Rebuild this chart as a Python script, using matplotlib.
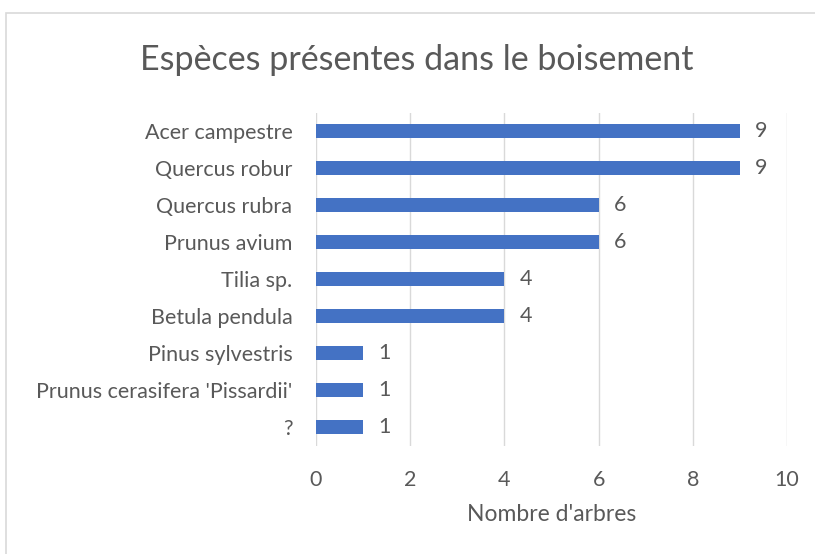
import matplotlib
matplotlib.use("Agg")
import matplotlib.pyplot as plt
from matplotlib.patches import Rectangle

categories = ["Acer campestre", "Quercus robur", "Quercus rubra", "Prunus avium",
              "Tilia sp.", "Betula pendula", "Pinus sylvestris",
              "Prunus cerasifera 'Pissardii'", "?"]
values = [9, 9, 6, 6, 4, 4, 1, 1, 1]
xticks = [0, 2, 4, 6, 8, 10]

plt.rcParams['font.family'] = ['Lato', 'DejaVu Sans']
txt = '#595959'
W, H = 815, 554
fig = plt.figure(figsize=(W/100, H/100), dpi=100)
fig.patches.append(Rectangle((6/W, -0.05), 1.2, 1.05 - 13/H, transform=fig.transFigure,
                             fill=False, edgecolor='#D9D9D9', linewidth=1.2))

ax = fig.add_axes([316/W, 1 - 445.5/H, (787-316)/W, (445.5-112.5)/H])
y = list(range(len(categories)))
ax.barh(y, values, height=0.36, color='#4472C4', zorder=3)
ax.set_ylim(len(categories) - 0.5, -0.5)
ax.set_xlim(0, 10)
ax.set_xticks(xticks)
ax.set_yticks(y)
ax.set_yticklabels(categories)
for s in ax.spines.values():
    s.set_visible(False)
ax.grid(axis='x', color='#D9D9D9', linewidth=1, zorder=0)
ax.tick_params(axis='both', length=0, labelsize=15.5, colors=txt)
ax.tick_params(axis='x', pad=18)
ax.tick_params(axis='y', pad=17)
for yi, v in zip(y, values):
    ax.text(v + 0.45, yi, str(v), ha='center', va='center', fontsize=15.5, color=txt)
ax.set_xlabel("Nombre d'arbres", fontsize=16.5, color=txt, labelpad=10)
fig.text(417/W, 1 - 60/H, "Espèces présentes dans le boisement", ha='center', va='center',
         fontsize=24.5, color=txt)
fig.savefig("out.png", dpi=100)
